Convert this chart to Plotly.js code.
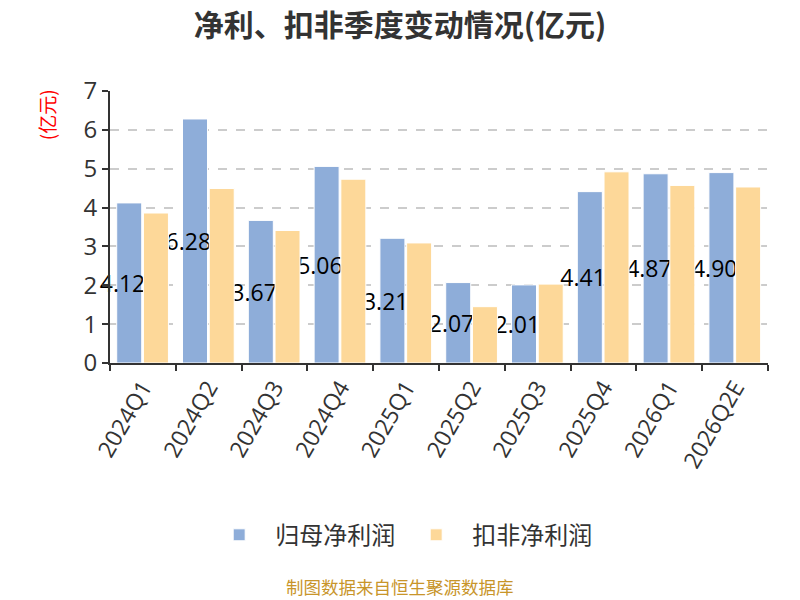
<!DOCTYPE html>
<html>
<head>
<meta charset="utf-8">
<script src="https://cdn.plot.ly/plotly-3.0.1.min.js"></script>
<style>
  html, body { margin: 0; padding: 0; background: #fff; }
  #graph { width: 800px; height: 600px; }
</style>
</head>
<body>
<div id="graph"></div>
<script>
var quarters = ['2024Q1', '2024Q2', '2024Q3', '2024Q4', '2025Q1', '2025Q2', '2025Q3', '2025Q4', '2026Q1', '2026Q2E'];
var netProfit = [4.12, 6.28, 3.67, 5.06, 3.21, 2.07, 2.01, 4.41, 4.87, 4.90];
var deductedProfit = [3.86, 4.49, 3.41, 4.73, 3.09, 1.45, 2.03, 4.92, 4.57, 4.53];
var seriesNames = ['归母净利润', '扣非净利润'];

var baseFont = '"Open Sans", "Noto Sans CJK SC", sans-serif';
var cjkFont = '"Noto Sans CJK SC", sans-serif';

// overlay mode, each series placed by offset inside its category
var barWidth = 0.38;

var traceNet = {
    x: quarters,
    y: netProfit,
    name: seriesNames[0],
    type: 'bar',
    width: barWidth,
    offset: -0.398,
    marker: { color: '#8eadd9', line: { color: '#ffffff', width: 1 } },
    hoverinfo: 'x+y'
};
// invisible carrier for the value labels, sits a bit left of the blue bar
// and below the yellow bars so they cover the overflow like the original
var traceLabels = {
    x: quarters,
    y: netProfit,
    type: 'bar',
    width: barWidth,
    offset: -0.5,
    showlegend: false,
    hoverinfo: 'skip',
    cliponaxis: false,
    marker: { color: 'rgba(0,0,0,0)', line: { width: 0 } },
    text: netProfit.map(function (v) { return v.toFixed(2); }),
    textposition: 'inside',
    insidetextanchor: 'middle',
    textangle: 0,
    constraintext: 'none',
    textfont: { family: baseFont, size: 23, color: '#000000' }
};
var traceDeducted = {
    x: quarters,
    y: deductedProfit,
    name: seriesNames[1],
    type: 'bar',
    width: barWidth,
    offset: 0.008,
    marker: { color: '#fdd899', line: { color: '#ffffff', width: 1 } },
    hoverinfo: 'x+y'
};

var layout = {
    width: 800,
    height: 600,
    margin: { l: 110, r: 32, t: 91, b: 237, pad: 0 },
    paper_bgcolor: '#ffffff',
    plot_bgcolor: '#ffffff',
    font: { family: baseFont, color: '#333333' },
    barmode: 'overlay',
    title: {
        text: '<b>净利、扣非季度变动情况(亿元)</b>',
        font: { family: cjkFont, size: 30, color: '#333333' },
        x: 0.5,
        xanchor: 'center',
        y: 0.958,
        yanchor: 'middle'
    },
    xaxis: {
        type: 'category',
        tickangle: -60,
        tickfont: { size: 23, color: '#333333' },
        ticks: 'outside',
        tickson: 'boundaries',
        ticklen: 6,
        tickwidth: 2,
        tickcolor: '#333333',
        showline: true,
        linecolor: '#333333',
        linewidth: 2,
        showgrid: false,
        zeroline: false
    },
    yaxis: {
        range: [0, 7],
        dtick: 1,
        tickfont: { size: 24, color: '#333333' },
        ticks: 'outside',
        ticklen: 6,
        tickwidth: 2,
        tickcolor: '#333333',
        showline: true,
        linecolor: '#333333',
        linewidth: 2,
        showgrid: true,
        gridcolor: '#cccccc',
        griddash: 'dash',
        gridwidth: 1.5,
        zeroline: false
    },
    legend: {
        orientation: 'h',
        x: 0.441,
        xanchor: 'center',
        yref: 'container',
        y: 0.108,
        yanchor: 'middle',
        font: { family: cjkFont, size: 24, color: '#333333' },
        itemwidth: 62,
        traceorder: 'normal'
    },
    annotations: [
        {
            text: '(亿元)',
            xref: 'paper',
            yref: 'paper',
            x: -0.096,
            y: 0.914,
            xanchor: 'center',
            yanchor: 'middle',
            textangle: -90,
            showarrow: false,
            font: { family: cjkFont, size: 19, color: '#ff0000' }
        },
        {
            text: '制图数据来自恒生聚源数据库',
            xref: 'paper',
            yref: 'paper',
            x: 0.441,
            y: -0.82,
            xanchor: 'center',
            yanchor: 'middle',
            showarrow: false,
            font: { family: cjkFont, size: 17.5, color: '#c8952a' }
        }
    ]
};

Plotly.newPlot('graph', [traceNet, traceLabels, traceDeducted], layout, { displayModeBar: false, responsive: false });
</script>
</body>
</html>
